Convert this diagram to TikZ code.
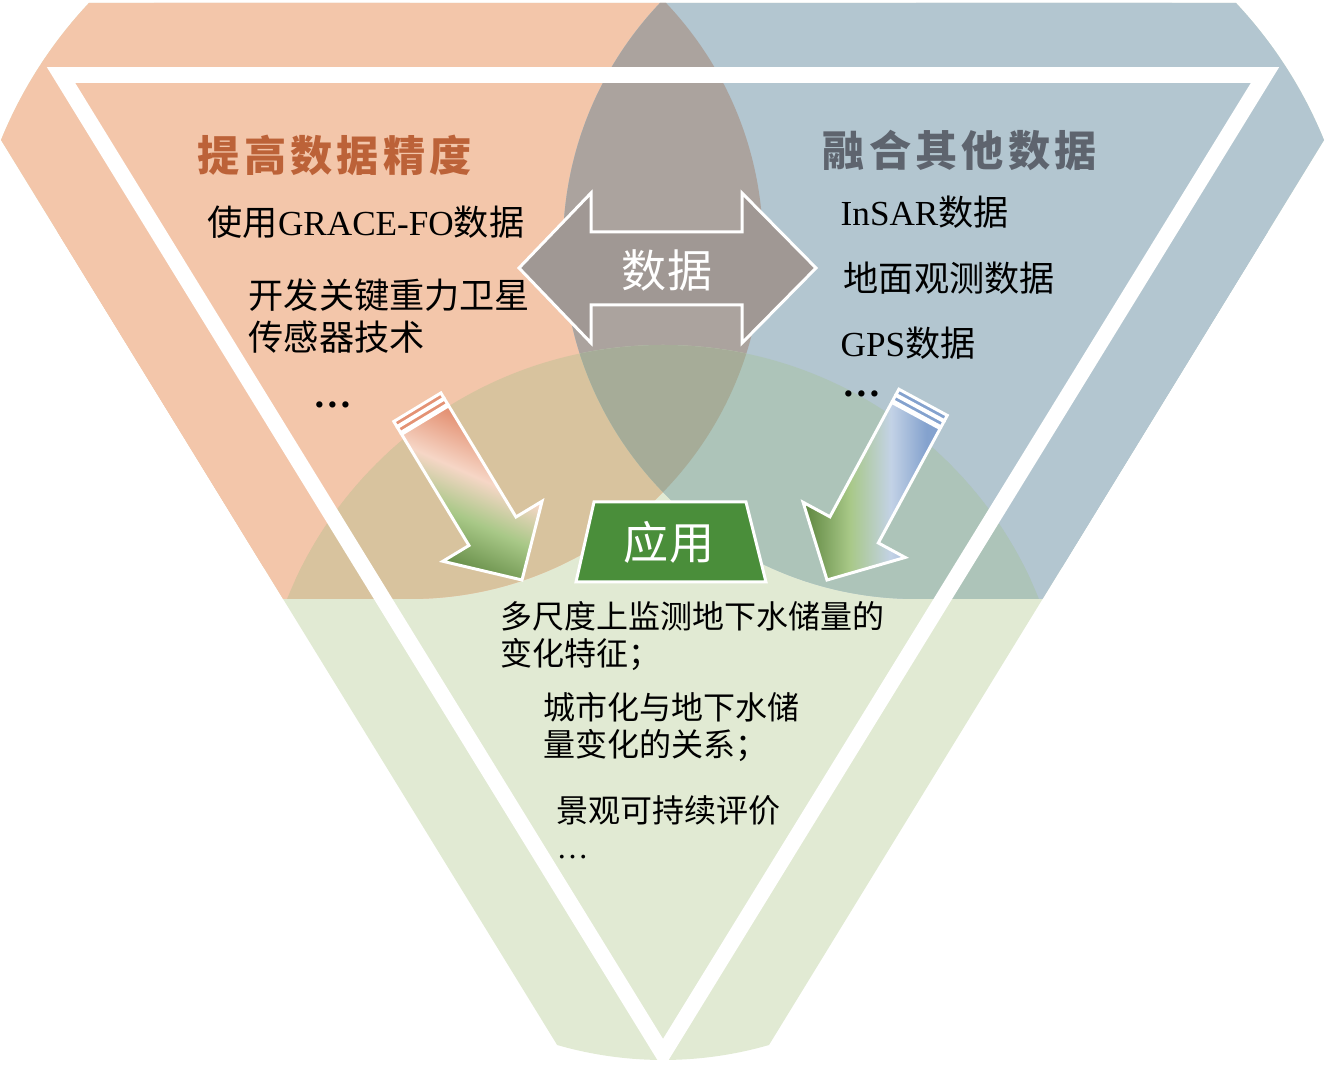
\documentclass[tikz,border=0pt]{standalone}
\usepackage{fontspec}
\setmainfont{Liberation Serif}
\newfontfamily\zh{Noto Sans CJK SC}
\newfontfamily\zhwide[LetterSpace=10]{Noto Sans CJK SC}
\newcommand\latn[1]{{\rmfamily #1}}
\newcommand\morepts{{\rmfamily\bfseries\fontsize{11}{12}\selectfont …}}
\definecolor{salmon}{RGB}{243,198,170}
\definecolor{steel}{RGB}{179,198,208}
\definecolor{sage}{RGB}{225,234,211}
\definecolor{lensgray}{RGB}{171,163,158}
\definecolor{tanmix}{RGB}{216,195,158}
\definecolor{tealmix}{RGB}{173,196,185}
\definecolor{coremix}{RGB}{166,172,152}
\definecolor{arrowgray}{RGB}{160,152,148}
\definecolor{appgreen}{RGB}{74,142,58}
\definecolor{titlebrown}{RGB}{188,98,56}
\definecolor{titleslate}{RGB}{94,100,110}
\definecolor{dkgreen}{RGB}{92,132,62}
\definecolor{ltgreen}{RGB}{168,200,135}
\definecolor{blush}{RGB}{246,214,198}
\definecolor{rosy}{RGB}{228,146,116}
\definecolor{ltblue}{RGB}{195,210,230}
\definecolor{midblue}{RGB}{132,162,206}
\pgfdeclarehorizontalshading{rosyfade}{100bp}{color(0bp)=(dkgreen); color(25bp)=(dkgreen); color(42bp)=(ltgreen); color(55bp)=(blush); color(70bp)=(rosy); color(100bp)=(rosy)}
\pgfdeclarehorizontalshading{bluefade}{100bp}{color(0bp)=(dkgreen); color(25bp)=(dkgreen); color(42bp)=(ltgreen); color(57bp)=(ltblue); color(70bp)=(midblue); color(100bp)=(midblue)}
\tikzset{
  heading/.style={font={\fontsize{12}{14}\zhwide\bfseries}, inner sep=0pt, anchor=west},
  item/.style={font={\fontsize{10}{12}\zh}, inner sep=0pt, anchor=west, align=left},
  note/.style={font={\fontsize{9.1}{10.3}\zh}, inner sep=0pt, anchor=west, align=left},
  badge/.style={font={\fontsize{12.8}{14}\zh}, text=white, inner sep=0pt},
  frame/.style={draw=white, line width=0.85pt, line join=miter},
}

\begin{document}
\begin{tikzpicture}[x=0.01cm, y=-0.01cm]
  \useasboundingbox (0,0) rectangle (1328,1065);

  \begin{scope}
    \clip (90,3) -- (1236,3) arc[start angle=316.8, end angle=337.8, radius=447]
      -- (769,1045) arc[start angle=73.9, end angle=106.1, radius=382]
      -- (1,140) arc[start angle=202.2, end angle=223.2, radius=447] -- cycle;
    \fill[sage] (0,0) rectangle (1328,1065);
    \fill[salmon] (410,246) circle[radius=353];
    \fill[salmon] (-20,-20) rectangle (410,599);
    \fill[steel] (916,246) circle[radius=353];
    \fill[steel] (916,-20) rectangle (1350,599);
    \begin{scope}
      \clip (410,246) circle[radius=353];
      \fill[lensgray] (916,246) circle[radius=353];
      \fill[tanmix] (663,750) circle[radius=405];
    \end{scope}
    \begin{scope}
      \clip (-20,-20) rectangle (410,599);
      \fill[tanmix] (663,750) circle[radius=405];
    \end{scope}
    \begin{scope}
      \clip (916,246) circle[radius=353];
      \fill[tealmix] (663,750) circle[radius=405];
      \clip (410,246) circle[radius=353];
      \fill[coremix] (663,750) circle[radius=405];
    \end{scope}
    \begin{scope}
      \clip (916,-20) rectangle (1350,599);
      \fill[tealmix] (663,750) circle[radius=405];
    \end{scope}
    \draw[white, line width=4.5pt] (61,75) -- (1265,75) -- (663,1054) -- cycle;
  \end{scope}

  \draw[frame, fill=arrowgray] (519,268) -- (591,193) -- (591,232) -- (742,232) -- (742,193)
    -- (816,268) -- (742,343) -- (742,305) -- (591,305) -- (591,343) -- cycle;
  \draw[frame, fill=appgreen] (594,502) -- (746,502) -- (766,582) -- (576,582) -- cycle;

  \foreach \tx/\ty/\turn/\fade/\tilt/\band in {522/580/121.2/rosyfade/66/rosy, 827/580/61.6/bluefade/0/midblue} {
    \begin{scope}[shift={(\tx,\ty)}, rotate=\turn]
      \shade[shading=\fade, shading angle=\tilt] (0,0) -- (57,58) -- (57,27.5) -- (187,27.5)
        -- (187,-27.5) -- (57,-27.5) -- (57,-58) -- cycle;
      \draw[frame] (0,0) -- (57,58) -- (57,27.5) -- (187,27.5)
        -- (187,-27.5) -- (57,-27.5) -- (57,-58) -- cycle;
      \draw[frame, fill=\band] (189,-27.5) rectangle (195,27.5);
      \draw[frame, fill=\band] (196,-27.5) rectangle (202,27.5);
    \end{scope}
  }

  \path
    (197,155) node[heading, text=titlebrown] (accuracy) {提高数据精度}
    (822,150) node[heading, text=titleslate] (fusion) {融合其他数据}
    (207,222) node[item] (grace) {使用\latn{GRACE-FO}数据}
    (248,316) node[item] (sensor) {开发关键重力卫星\\传感器技术}
    (313,405) node[item] (moreL) {\morepts}
    (840,212) node[item] (insar) {\latn{InSAR}数据}
    (843,278) node[item] (ground) {地面观测数据}
    (840,343) node[item] (gps) {\latn{GPS}数据}
    (842,394) node[item] (moreR) {\morepts}
    (667,270) node[badge] (data) {数据}
    (669,542) node[badge] (use) {应用}
    (500,636) node[note] (monitor) {多尺度上监测地下水储量的\\变化特征；}
    (543,727) node[note] (urban) {城市化与地下水储\\量变化的关系；}
    (556,810) node[note] (landscape) {景观可持续评价}
    (556,857) node[note] (moreB) {\latn{…}};
\end{tikzpicture}
\end{document}
